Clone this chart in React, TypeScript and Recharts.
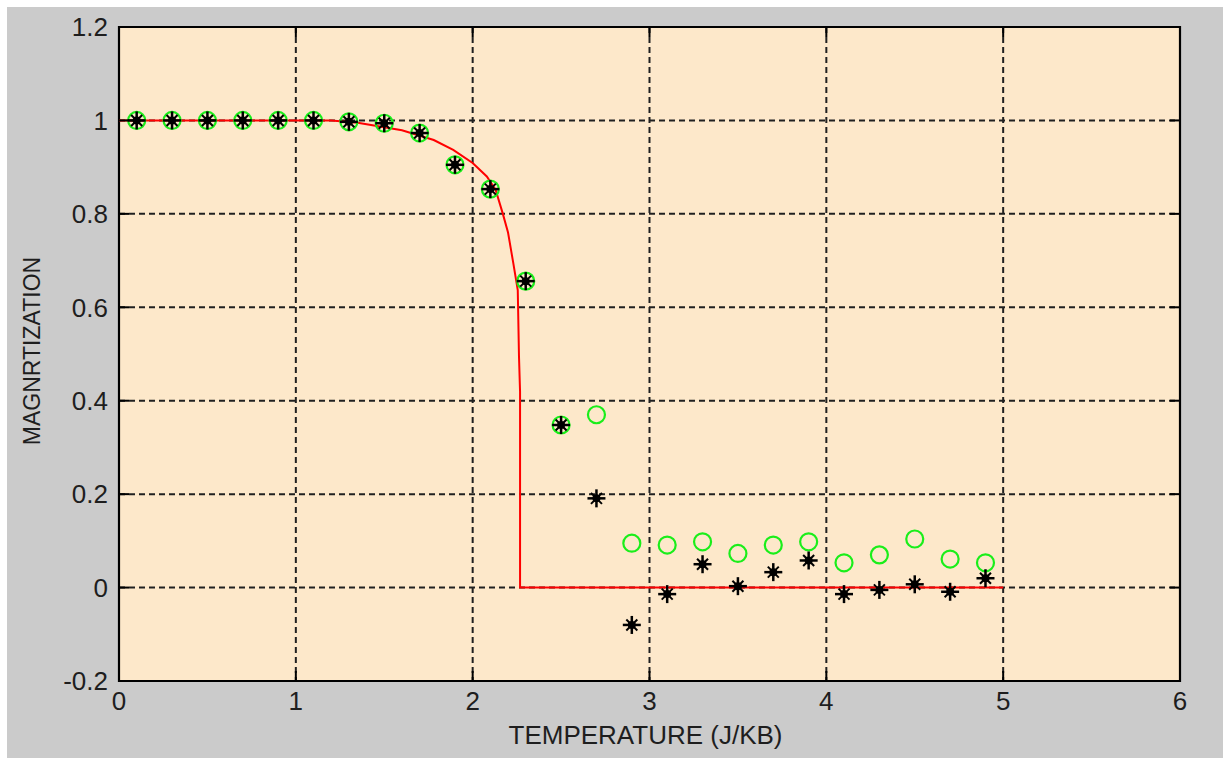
import * as React from "react"
import { ComposedChart, Line, Scatter, XAxis, YAxis, CartesianGrid, ReferenceArea } from "recharts"

// simulated points, T = 0.1 .. 4.9
const temps = [0.1, 0.3, 0.5, 0.7, 0.9, 1.1, 1.3, 1.5, 1.7, 1.9, 2.1, 2.3, 2.5, 2.7, 2.9, 3.1, 3.3, 3.5, 3.7, 3.9, 4.1, 4.3, 4.5, 4.7, 4.9]
const absMag = [1, 1, 1, 1, 1, 1, 0.997, 0.994, 0.973, 0.905, 0.853, 0.656, 0.348, 0.37, 0.095, 0.091, 0.098, 0.073, 0.091, 0.098, 0.053, 0.07, 0.104, 0.061, 0.053]
const mag = [1, 1, 1, 1, 1, 1, 0.997, 0.994, 0.973, 0.905, 0.853, 0.656, 0.348, 0.191, -0.08, -0.014, 0.05, 0.003, 0.033, 0.058, -0.014, -0.005, 0.007, -0.009, 0.02]

// exact solution curve (red)
const curveT = [0, 1.2, 1.35, 1.6, 1.78, 1.89, 2.0, 2.08, 2.13, 2.17, 2.2, 2.23, 2.255, 2.262, 2.268, 2.268, 5]
const curveM = [1, 1, 0.995, 0.979, 0.958, 0.937, 0.909, 0.88, 0.851, 0.801, 0.76, 0.694, 0.637, 0.494, 0.42, 0, 0]

const xTicks = [0, 1, 2, 3, 4, 5, 6]
const yTicks = [-0.2, 0, 0.2, 0.4, 0.6, 0.8, 1, 1.2]

const W = 1216
const H = 751
const M_TOP = 20
const M_RIGHT = 43
const Y_AXIS_W = 112
const X_AXIS_H = 77
const PLOT_TOP = M_TOP
const PLOT_BOTTOM = H - X_AXIS_H
const PLOT_LEFT = Y_AXIS_W
const PLOT_RIGHT = W - M_RIGHT
const TICK_LEN = 10

const FONT = "'Liberation Sans', Arial, sans-serif"
const TEXT = "#1e1e1e"

const pointData = temps.map((t, i) => ({ t, abs: absMag[i], m: mag[i] }))
const curveData = curveT.map((t, i) => ({ t, m: curveM[i] }))

const XTick = (props: any) => {
  const { x, y, payload } = props
  return (
    <g>
      <line x1={x} x2={x} y1={PLOT_BOTTOM} y2={PLOT_BOTTOM - TICK_LEN} stroke="#000" strokeWidth={2} />
      <line x1={x} x2={x} y1={PLOT_TOP} y2={PLOT_TOP + TICK_LEN} stroke="#000" strokeWidth={2} />
      <text x={x} y={y} dy="0.71em" textAnchor="middle" fontSize={26} fontFamily={FONT} fill={TEXT}>
        {String(payload.value)}
      </text>
    </g>
  )
}

const YTick = (props: any) => {
  const { x, y, payload } = props
  return (
    <g>
      <line x1={PLOT_LEFT} x2={PLOT_LEFT + TICK_LEN} y1={y} y2={y} stroke="#000" strokeWidth={2} />
      <line x1={PLOT_RIGHT} x2={PLOT_RIGHT - TICK_LEN} y1={y} y2={y} stroke="#000" strokeWidth={2} />
      <text x={x} y={y} dy="0.355em" textAnchor="end" fontSize={26} fontFamily={FONT} fill={TEXT}>
        {String(Math.round(payload.value * 10) / 10)}
      </text>
    </g>
  )
}

const XLabel = () => {
  const cx = (PLOT_LEFT + PLOT_RIGHT) / 2 - 4
  return (
    <text x={cx} y={728} dy="0.355em" textAnchor="middle" fontSize={26} fontFamily={FONT} fill={TEXT}>
      TEMPERATURE (J/KB)
    </text>
  )
}

const YLabel = () => {
  const cx = 25
  const cy = (PLOT_TOP + PLOT_BOTTOM) / 2 - 3
  return (
    <text x={cx} y={cy} dy="0.355em" textAnchor="middle" transform={`rotate(-90 ${cx} ${cy})`} fontSize={23} fontFamily={FONT} fill={TEXT}>
      MAGNRTIZATION
    </text>
  )
}

const Ring = (props: any) => {
  const { cx, cy } = props
  return <circle cx={cx} cy={cy} r={8.5} fill="none" stroke="#1aee1a" strokeWidth={2.2} />
}

const Star = (props: any) => {
  const { cx, cy } = props
  const a = 9
  const d = 5.5
  return (
    <g stroke="#000">
      <line x1={cx - a} x2={cx + a} y1={cy} y2={cy} strokeWidth={2.5} />
      <line x1={cx} x2={cx} y1={cy - a} y2={cy + a} strokeWidth={2.5} />
      <line x1={cx - d} x2={cx + d} y1={cy - d} y2={cy + d} strokeWidth={2} />
      <line x1={cx - d} x2={cx + d} y1={cy + d} y2={cy - d} strokeWidth={2} />
      <circle cx={cx} cy={cy} r={4} fill="#000" stroke="none" />
    </g>
  )
}

export default function App() {
  return (
    <div style={{ position: "absolute", left: 7, top: 7, width: W, height: H, background: "#cbcbcb" }}>
      <ComposedChart width={W} height={H} margin={{ top: M_TOP, right: M_RIGHT, left: 0, bottom: 0 }}>
        <CartesianGrid fill="#fde8ca" stroke="#202020" strokeWidth={2} strokeDasharray="6 4" />
        <XAxis
          dataKey="t"
          type="number"
          domain={[0, 6]}
          ticks={xTicks}
          interval={0}
          height={X_AXIS_H}
          axisLine={false}
          tickLine={false}
          tickSize={0}
          tickMargin={11}
          tick={<XTick />}
          label={<XLabel />}
        />
        <YAxis
          type="number"
          domain={[-0.2, 1.2]}
          ticks={yTicks}
          interval={0}
          width={Y_AXIS_W}
          axisLine={false}
          tickLine={false}
          tickSize={0}
          tickMargin={11}
          tick={<YTick />}
          label={<YLabel />}
        />
        <ReferenceArea x1={0} x2={6} y1={-0.2} y2={1.2} fill="none" stroke="#000" strokeWidth={2.2} ifOverflow="visible" />
        <Line
          data={curveData}
          dataKey="m"
          type="linear"
          stroke="#ff0000"
          strokeWidth={2}
          dot={false}
          activeDot={false}
          isAnimationActive={false}
        />
        <Scatter data={pointData} dataKey="abs" shape={<Ring />} isAnimationActive={false} />
        <Scatter data={pointData} dataKey="m" shape={<Star />} isAnimationActive={false} />
      </ComposedChart>
    </div>
  )
}
